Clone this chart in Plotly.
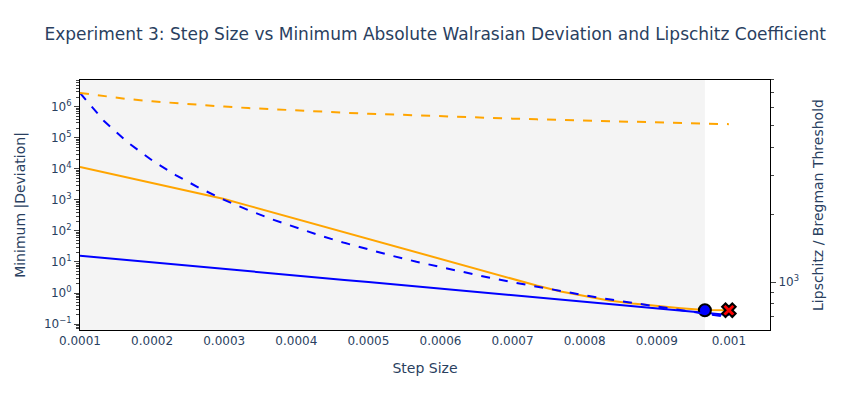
import plotly.graph_objects as go

# ---- data ----
step_sizes = [0.0001, 0.0001333, 0.0001667, 0.0002, 0.0002333, 0.0002667, 0.0003,
              0.0003333, 0.0003667, 0.0004, 0.0004333, 0.0004667, 0.0005, 0.0005333,
              0.0005667, 0.0006, 0.0006333, 0.0006667, 0.0007, 0.0007333, 0.0007667,
              0.0008, 0.0008333, 0.0008667, 0.0009, 0.0009333, 0.0009667, 0.001]

dev_blue = [15.8, 13.5, 11.4, 9.73, 8.26, 7.03, 5.97, 5.07, 4.31, 3.66, 3.11, 2.65,
            2.25, 1.91, 1.62, 1.38, 1.17, 1.00, 0.85, 0.72, 0.61, 0.52, 0.44, 0.376,
            0.32, 0.271, 0.23, 0.196]

dev_orange = [11480, 7760, 5250, 3470, 2340, 1585, 1070, 653, 398, 243, 148, 90,
              55, 33.5, 20.4, 12.4, 7.6, 4.6, 2.8, 1.74, 1.12, 0.78, 0.575, 0.457,
              0.38, 0.324, 0.282, 0.279]

lip_blue = [7000, 5250, 4200, 3500, 3000, 2625, 2333, 2100, 1909, 1750, 1615, 1500,
            1400, 1312, 1235, 1167, 1105, 1050, 1000, 955, 913, 875, 840, 808,
            778, 750, 724, 700]

lip_orange = [7000, 6760, 6574, 6422, 6293, 6182, 6084, 5996, 5916, 5844, 5777, 5715,
              5658, 5604, 5553, 5506, 5461, 5418, 5377, 5338, 5301, 5266, 5232, 5199,
              5167, 5137, 5108, 5080]

best_point = (0.0009667, 0.28)
unstable_point = (0.001, 0.28)
stable_region = (0.0001, 0.0009667)

x_tick_vals = [0.0001, 0.0002, 0.0003, 0.0004, 0.0005, 0.0006, 0.0007, 0.0008, 0.0009, 0.001]
x_tick_text = ["0.0001", "0.0002", "0.0003", "0.0004", "0.0005", "0.0006", "0.0007",
               "0.0008", "0.0009", "0.001"]

y_tick_vals = [0.1, 1, 10, 100, 1e3, 1e4, 1e5, 1e6]
y_tick_text = ["10<sup>−1</sup>", "10<sup>0</sup>", "10<sup>1</sup>", "10<sup>2</sup>",
               "10<sup>3</sup>", "10<sup>4</sup>", "10<sup>5</sup>", "10<sup>6</sup>"]

y2_tick_vals = [1e3]
y2_tick_text = ["10<sup>3</sup>"]

y_minor_vals = [m * d for d in [0.01, 0.1, 1, 10, 100, 1e3, 1e4, 1e5, 1e6]
                for m in range(2, 10)]
y2_minor_vals = [m * d for d in [100, 1000] for m in range(2, 10)]

FONT = "Verdana, DejaVu Sans, sans-serif"

# ---- figure ----
fig = go.Figure()

fig.add_trace(go.Scatter(x=step_sizes, y=dev_blue, mode="lines", name="Min |Deviation| (A)",
                         line=dict(color="blue", width=2)))
fig.add_trace(go.Scatter(x=step_sizes, y=dev_orange, mode="lines", name="Min |Deviation| (B)",
                         line=dict(color="orange", width=2)))
fig.add_trace(go.Scatter(x=step_sizes, y=lip_blue, mode="lines", name="Lipschitz (A)",
                         line=dict(color="blue", width=2, dash="dash"), yaxis="y2"))
fig.add_trace(go.Scatter(x=step_sizes, y=lip_orange, mode="lines", name="Bregman Threshold (B)",
                         line=dict(color="orange", width=2, dash="dash"), yaxis="y2"))
fig.add_trace(go.Scatter(x=[best_point[0]], y=[best_point[1]], mode="markers", name="Best",
                         marker=dict(symbol="circle", size=12, color="blue",
                                     line=dict(color="black", width=2))))
fig.add_trace(go.Scatter(x=[unstable_point[0]], y=[unstable_point[1]], mode="markers",
                         name="Unstable",
                         marker=dict(symbol="x", size=12, color="red",
                                     line=dict(color="black", width=2))))

fig.add_shape(type="rect", xref="x", yref="paper", x0=stable_region[0], x1=stable_region[1],
              y0=0, y1=1, fillcolor="#f4f4f4", line=dict(width=0), layer="below")

axis_common = dict(showline=True, linecolor="black", linewidth=1, showgrid=False,
                   zeroline=False)

fig.update_layout(
    width=850, height=420,
    margin=dict(l=80, r=80, t=80, b=90),
    paper_bgcolor="white", plot_bgcolor="white",
    showlegend=False,
    font=dict(family=FONT, color="#2a3f5f"),
    title=dict(text="Experiment 3: Step Size vs Minimum Absolute Walrasian Deviation and Lipschitz Coefficient",
               x=0.512, xanchor="center", y=0.918, yanchor="middle",
               font=dict(size=17, color="#2a3f5f", family=FONT)),
    xaxis=dict(title=dict(text="Step Size"), range=[0.0001, 0.001057], mirror=True,
               tickmode="array", tickvals=x_tick_vals, ticktext=x_tick_text,
               **axis_common),
    yaxis=dict(title=dict(text="Minimum |Deviation|"), type="log", range=[-1.19, 6.86],
               tickmode="array", tickvals=y_tick_vals, ticktext=y_tick_text,
               tickfont=dict(size=12), ticks="outside", ticklen=5,
               minor=dict(ticks="outside", ticklen=3, showgrid=False,
                          tickmode="array", tickvals=y_minor_vals),
               **axis_common),
    yaxis2=dict(title=dict(text="Lipschitz / Bregman Threshold"), type="log",
                range=[2.787, 3.903], overlaying="y", side="right",
                tickmode="array", tickvals=y2_tick_vals, ticktext=y2_tick_text,
                tickfont=dict(size=12), ticks="outside", ticklen=5,
                minor=dict(ticks="outside", ticklen=3, showgrid=False,
                           tickmode="array", tickvals=y2_minor_vals),
                **axis_common),
)

fig.write_html("out.html")
